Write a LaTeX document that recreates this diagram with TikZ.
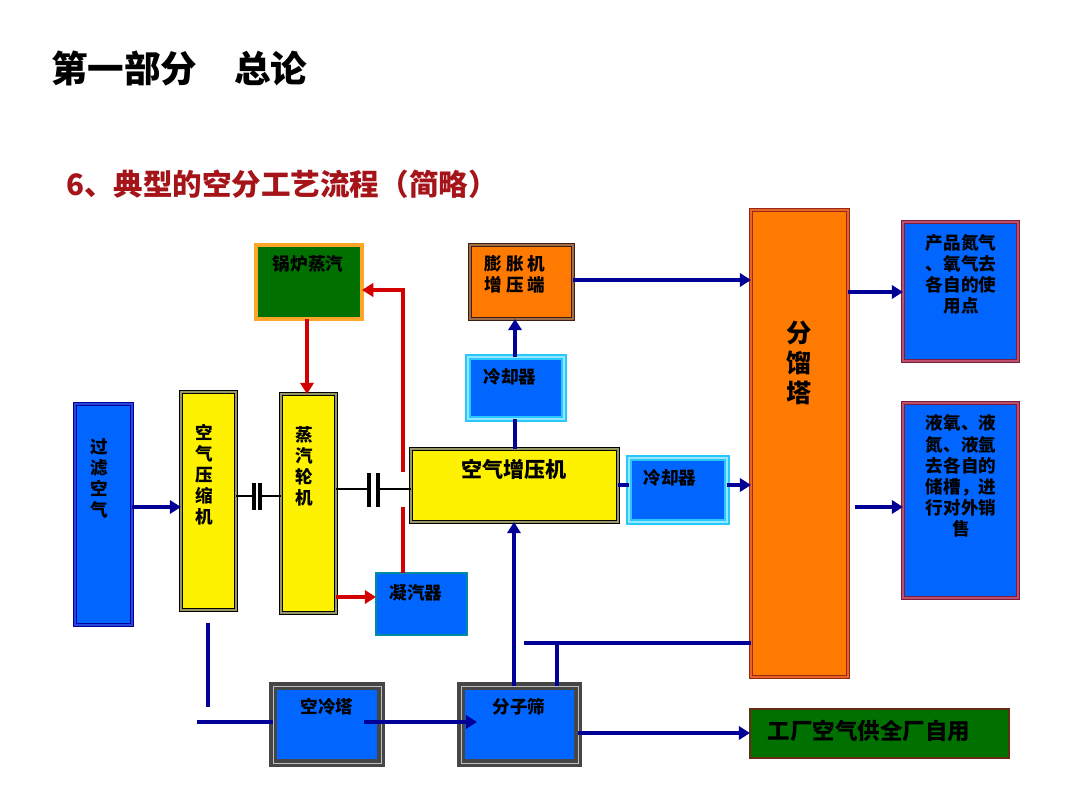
\documentclass[tikz,border=0pt]{standalone}
\usepackage{fontspec}
\setmainfont{Noto Sans CJK SC}
\usetikzlibrary{arrows.meta,fit}
\definecolor{boxblue}{RGB}{0,102,255}
\definecolor{navy}{RGB}{0,0,150}
\definecolor{filtmid}{RGB}{40,70,220}
\definecolor{redl}{RGB}{210,0,0}
\definecolor{orangef}{RGB}{255,122,0}
\definecolor{greenf}{RGB}{0,112,0}
\definecolor{titlered}{RGB}{165,20,25}
\definecolor{ymid}{RGB}{150,150,100}
\definecolor{boilerorange}{RGB}{255,165,40}
\definecolor{condteal}{RGB}{0,140,160}
\definecolor{cyanb}{RGB}{40,200,255}
\definecolor{cyanlight}{RGB}{150,230,255}
\definecolor{expdark}{RGB}{60,30,20}
\definecolor{exptan}{RGB}{160,110,70}
\definecolor{towerred}{RGB}{150,40,20}
\definecolor{towermid}{RGB}{230,100,40}
\definecolor{prodmaroon}{RGB}{120,30,60}
\definecolor{prodmid}{RGB}{190,80,110}
\definecolor{sievegray}{RGB}{70,70,70}
\definecolor{sievelight}{RGB}{190,190,190}
\definecolor{plantbrown}{RGB}{100,45,20}
\begin{document}
\begin{tikzpicture}[x=0.25mm,y=-0.25mm,
  fitbox/.style={inner sep=0pt,outer sep=0pt},
  filterbox/.style={fitbox,fill=boxblue,draw=navy,double=filtmid,double distance=1pt,line width=1pt},
  ybox/.style={fitbox,fill=yellow,draw=black,double=ymid,double distance=1.2pt,line width=0.8pt},
  boilerbox/.style={fitbox,fill=greenf,draw=boilerorange,line width=2.2pt},
  condbox/.style={fitbox,fill=boxblue,draw=condteal,line width=1.5pt},
  coolbox/.style={fitbox,fill=boxblue,draw=cyanb,double=cyanlight,double distance=0.8pt,line width=1.8pt},
  expbox/.style={fitbox,fill=orangef,draw=expdark,double=exptan,double distance=1pt,line width=1pt},
  towerbox/.style={fitbox,fill=orangef,draw=towerred,double=towermid,double distance=1pt,line width=1pt},
  prodbox/.style={fitbox,fill=boxblue,draw=prodmaroon,double=prodmid,double distance=1pt,line width=1.2pt},
  sievebox/.style={fitbox,fill=boxblue,draw=sievegray,double=sievelight,double distance=0.7pt,line width=2.2pt},
  plantbox/.style={fitbox,fill=greenf,draw=plantbrown,line width=2pt},
  lbl/.style={font=\bfseries\fontsize{12.5}{15}\selectfont,align=center,inner sep=0pt},
  flow/.style={draw=navy,line width=2.8pt,-{Triangle[length=8pt,width=9.5pt]}},
  flowline/.style={draw=navy,line width=2.8pt},
  steam/.style={draw=redl,line width=2.8pt,-{Triangle[length=8pt,width=9.5pt]}},
  steamline/.style={draw=redl,line width=2.8pt},
  shaft/.style={draw=black,line width=2pt},
  shaftbar/.style={draw=black,line width=2.2pt}]
\fill[white] (0,0) rectangle (1080,810);
\useasboundingbox (0,0) rectangle (1080,810);

\node[anchor=west,inner sep=0pt,font=\bfseries\fontsize{26}{30}\selectfont] (title) at (51,68) {第一部分　总论};
\node[anchor=west,inner sep=0pt,text=titlered,font=\bfseries\fontsize{21}{25}\selectfont] (sub) at (66,184) {6、典型的空分工艺流程（简略）};

% boxes
\node[filterbox,fit={(75,404)(132,625)}] (glkq) {};
\node[lbl] (tglkq) at (99,478) {过\\滤\\空\\气};
\node[ybox,fit={(181,392)(236,610)}] (kysj) {};
\node[lbl] (tkysj) at (204,475) {空\\气\\压\\缩\\机};
\node[ybox,fit={(281,394)(336,613)}] (zqlj) {};
\node[lbl] (tzqlj) at (304,466) {蒸\\汽\\轮\\机};
\node[boilerbox,fit={(256,245)(362,319)}] (glzq) {};
\node[lbl] (tglzq) at (308,264) {锅炉蒸汽};
\node[condbox,fit={(376,573)(467,635)}] (nqq) {};
\node[lbl] (tnqq) at (416,593) {凝汽器};
\node[ybox,fit={(411,449)(618,522)}] (zyj) {};
\node[lbl,font=\bfseries\fontsize{15}{18}\selectfont] (tzyj) at (514,469) {空气增压机};
\node[coolbox,fit={(468,357)(564,419)}] (lqqa) {};
\node[lbl] (tlqqa) at (510,377) {冷却器};
\node[expbox,fit={(470,245)(573,319)}] (pzj) {};
\node[lbl] (tpzj) at (515,274) {膨 胀 机\\增 压 端};
\node[coolbox,fit={(629,458)(727,522)}] (lqqb) {};
\node[lbl] (tlqqb) at (670,478) {冷却器};
\node[towerbox,fit={(751,210)(848,677)}] (flt) {};
\node[lbl,font=\bfseries\fontsize{18}{21.5}\selectfont] (tflt) at (799,363) {分\\馏\\塔};
\node[prodbox,fit={(903,222)(1018,361)}] (cp) {};
\node[lbl] (tcp) at (961,274) {产品氮气\\、氧气去\\各自的使\\用点};
\node[prodbox,fit={(903,403)(1018,598)}] (yy) {};
\node[lbl] (tyy) at (961,476) {液氧、液\\氮、液氩\\去各自的\\储槽，进\\行对外销\\售};
\node[sievebox,fit={(273,686)(381,763)}] (klt) {};
\node[lbl] (tklt) at (327,707) {空冷塔};
\node[sievebox,fit={(461,686)(578,763)}] (fzs) {};
\node[lbl] (tfzs) at (519,707) {分子筛};
\node[plantbox,fit={(750,709)(1009,758)}] (gc) {};
\node[lbl,font=\bfseries\fontsize{16}{19}\selectfont] (tgc) at (869,731) {工厂空气供全厂自用};

% free ends
\coordinate (sa) at (254,496);
\coordinate (sb) at (260,496);
\coordinate (sc) at (369,489);
\coordinate (sd) at (378,489);
\coordinate (ra) at (403,507);
\coordinate (rb) at (403,472);
\coordinate (ba) at (208,623);
\coordinate (bb) at (208,707);
\coordinate (bc) at (197,722);
\coordinate (bd) at (364,722);
\coordinate (be) at (477,722);
\coordinate (bf) at (557,643);
\coordinate (bg) at (524,643);
\coordinate (bh) at (855,507);

% shafts and couplings
\draw[shaft] (kysj.east |- sa) -- (sa);
\draw[shaft] (sb) -- (zqlj.west |- sb);
\draw[shaftbar] (254,483) -- (254,510);
\draw[shaftbar] (260,483) -- (260,510);
\draw[shaft] (zqlj.east |- sc) -- (sc);
\draw[shaft] (sd) -- (zyj.west |- sd);
\draw[shaftbar] (369,473) -- (369,507);
\draw[shaftbar] (378,473) -- (378,507);

% steam (red)
\draw[steam] (glzq.south -| 307,0) -- (zqlj.north -| 307,0);
\draw[steamline] (nqq.north -| ra) -- (ra);
\draw[steam] (rb) |- (glzq.east |- 0,290);
\draw[steam] (zqlj.east |- 0,597) -- (nqq.west |- 0,597);

% air flow (navy)
\draw[flow] (glkq.east |- 0,507) -- (kysj.west |- 0,507);
\draw[flowline] (zyj.north -| 515,0) -- (lqqa.south -| 515,0);
\draw[flow] (lqqa.north -| 515,0) -- (pzj.south -| 515,0);
\draw[flow] (pzj.east |- 0,280) -- (flt.west |- 0,280);
\draw[flowline] (zyj.east |- 0,485) -- (lqqb.west |- 0,485);
\draw[flow] (lqqb.east |- 0,485) -- (flt.west |- 0,485);
\draw[flow] (flt.east |- 0,292) -- (cp.west |- 0,292);
\draw[flow] (bh) -- (yy.west |- bh);
\draw[flowline] (ba) -- (bb);
\draw[flowline] (bc) -- (klt.west |- bc);
\draw[flow] (bd) -- (be);
\draw[flow] (fzs.north -| 514,0) -- (zyj.south -| 514,0);
\draw[flowline] (fzs.north -| bf) -- (bf);
\draw[flowline] (bg) -- (flt.west |- bg);
\draw[flow] (fzs.east |- 0,733) -- (gc.west |- 0,733);
\end{tikzpicture}
\end{document}
